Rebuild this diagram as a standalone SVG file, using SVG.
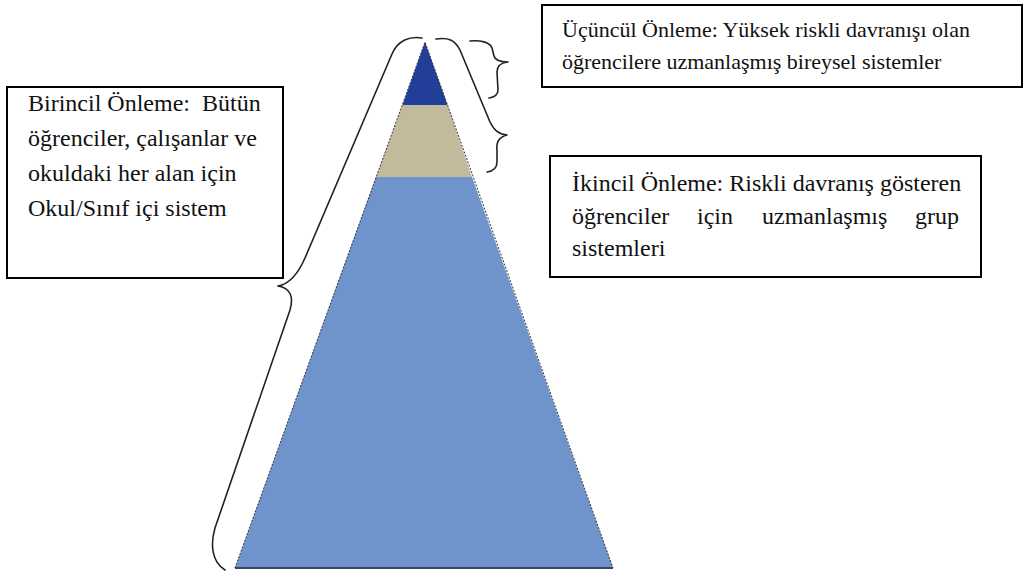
<svg xmlns="http://www.w3.org/2000/svg" width="1024" height="576" viewBox="0 0 1024 576">
<style>
.box{fill:#fff;stroke:#000;stroke-width:2}
.t{font-family:"Liberation Serif","Times New Roman",serif;fill:#111;white-space:pre}
.t24{font-size:24px}
.t22{font-size:22px}
.brace{fill:none;stroke:#222;stroke-width:1.6;stroke-linecap:round;stroke-linejoin:round}
.edge{fill:none;stroke:#333;stroke-width:1;stroke-dasharray:2 1.5}
</style>
<rect width="1024" height="576" fill="#fff"/>
<g id="pyramid">
  <g id="tier-primary"><polygon points="376,177 472,177 613,568 235,568" fill="#6F94CC"/></g>
  <g id="tier-secondary"><polygon points="402.5,105 447.5,105 472,177 376,177" fill="#C1BA9C"/></g>
  <g id="tier-tertiary"><polygon points="425,42 447.5,105 402.5,105" fill="#213F99"/></g>
  <polyline class="edge" points="235,568 425,42 613,568"/>
  <line x1="235" y1="568" x2="613" y2="568" stroke="#3A4660" stroke-width="2"/>
</g>
<g id="connectors">
  <path class="brace" d="M 422 38 C 410 36, 398 40, 392 54 L 305 258 C 298 274, 290 284, 278 286 C 290 288, 294 296, 290 310 L 215 528 C 210 545, 212 562, 225 570"/>
  <path class="brace" d="M 436 39 C 448 37, 455 40, 460 50 L 490 122 C 494 130, 498 134, 507 135 C 499 137, 496 142, 497 150 L 497 162 C 497 168, 494 171, 487 172"/>
  <path class="brace" d="M 470 41 C 480 40, 490 42, 492 48 L 494 56 C 495 60, 500 62, 508 62 C 500 63, 497 66, 497 72 L 498 90 C 498 95, 495 97, 489 98"/>
</g>
<g id="box-primary">
  <rect class="box" x="7" y="87" width="276" height="191"/>
  <text class="t t24" x="28" y="111" xml:space="preserve">Birincil Önleme:  Bütün</text>
  <text class="t t24" x="28" y="146">öğrenciler, çalışanlar ve</text>
  <text class="t t24" x="28" y="181">okuldaki her alan için</text>
  <text class="t t24" x="28" y="216">Okul/Sınıf içi sistem</text>
</g>
<g id="box-tertiary">
  <rect class="box" x="542" y="5" width="480" height="82"/>
  <text class="t t22" x="562" y="37">Üçüncül Önleme: Yüksek riskli davranışı olan</text>
  <text class="t t22" x="562" y="69">öğrencilere uzmanlaşmış bireysel sistemler</text>
</g>
<g id="box-secondary">
  <rect class="box" x="550" y="156" width="431" height="121"/>
  <text class="t t24" x="572" y="191">İkincil Önleme: Riskli davranış gösteren</text>
  <text class="t t24" x="572" y="224">öğrenciler</text>
  <text class="t t24" x="697" y="224">için</text>
  <text class="t t24" x="762" y="224">uzmanlaşmış</text>
  <text class="t t24" x="959" y="224" text-anchor="end">grup</text>
  <text class="t t24" x="572" y="256">sistemleri</text>
</g>
</svg>
